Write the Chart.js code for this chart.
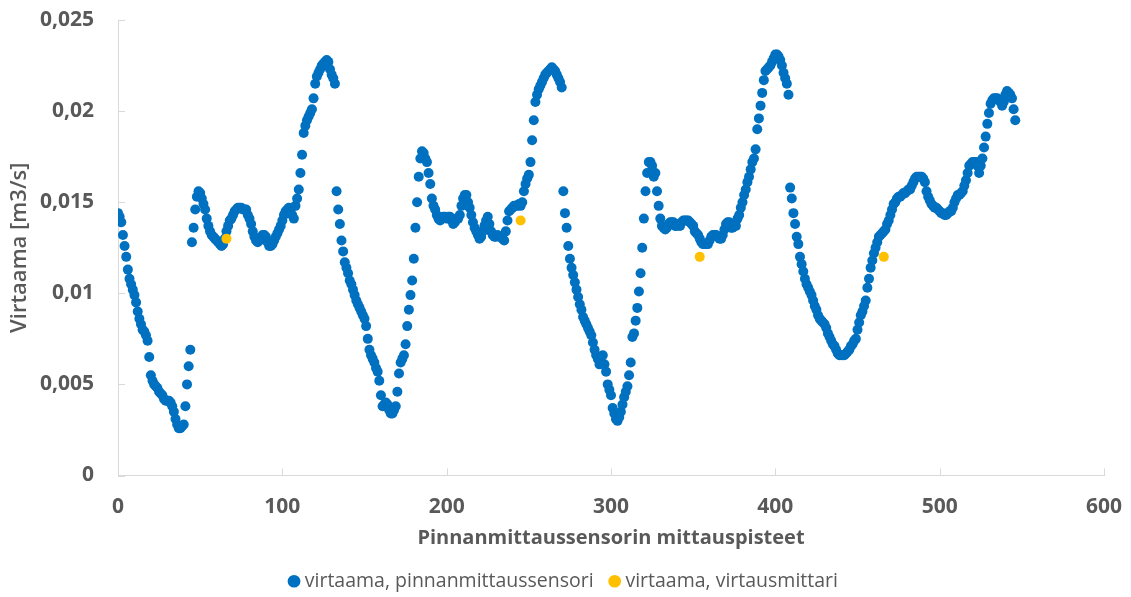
<!DOCTYPE html>
<html>
<head>
<meta charset="utf-8">
<script src="https://cdn.jsdelivr.net/npm/chart.js@4.4.1/dist/chart.umd.min.js"></script>
<style>
html,body{margin:0;padding:0;background:#fff;}
#wrap{width:1131px;height:597px;position:relative;}
</style>
</head>
<body>
<div id="wrap"><canvas id="c" width="1131" height="597"></canvas></div>
<script>
// Series 1: virtaama, pinnanmittaussensori (one value per measurement point, index 0..546)
const sensorValues = [
0.0144,0.0142,0.0139,0.0132,0.0126,0.0120,0.0113,0.0108,0.0105,0.0102,
0.0099,0.0095,0.0090,0.0086,0.0083,0.0080,0.0079,0.0077,0.0074,0.0065,
0.0055,0.0052,0.0050,0.0049,0.0048,0.0046,0.0045,0.0044,0.0042,0.0041,
0.0041,0.0041,0.0040,0.0038,0.0035,0.0031,0.0028,0.0026,0.0026,0.0027,
0.0028,0.0038,0.0050,0.0060,0.0069,0.0128,0.0136,0.0146,0.0153,0.0156,
0.0155,0.0152,0.0149,0.0146,0.0141,0.0137,0.0134,0.0132,0.0131,0.0130,
0.0129,0.0128,0.0127,0.0126,0.0127,0.0130,0.0134,0.0137,0.0140,0.0141,
0.0143,0.0145,0.0146,0.0147,0.0147,0.0147,0.0146,0.0146,0.0146,0.0143,
0.0141,0.0138,0.0134,0.0131,0.0129,0.0128,0.0129,0.0130,0.0132,0.0132,
0.0131,0.0128,0.0126,0.0126,0.0127,0.0129,0.0131,0.0133,0.0135,0.0137,
0.0140,0.0143,0.0145,0.0146,0.0147,0.0146,0.0143,0.0141,0.0148,0.0152,
0.0157,0.0166,0.0176,0.0188,0.0192,0.0195,0.0197,0.0199,0.0201,0.0207,
0.0215,0.0219,0.0221,0.0223,0.0225,0.0226,0.0227,0.0228,0.0227,0.0223,
0.0220,0.0218,0.0215,0.0156,0.0146,0.0138,0.0129,0.0123,0.0117,0.0114,
0.0111,0.0107,0.0105,0.0102,0.0099,0.0096,0.0094,0.0092,0.0090,0.0088,
0.0086,0.0082,0.0075,0.0069,0.0066,0.0064,0.0062,0.0059,0.0057,0.0052,
0.0044,0.0038,0.0039,0.0040,0.0039,0.0036,0.0034,0.0034,0.0036,0.0038,
0.0046,0.0056,0.0062,0.0064,0.0066,0.0072,0.0082,0.0091,0.0099,0.0107,
0.0119,0.0136,0.0150,0.0164,0.0174,0.0178,0.0177,0.0174,0.0172,0.0166,
0.0160,0.0152,0.0148,0.0146,0.0143,0.0141,0.0140,0.0141,0.0142,0.0142,
0.0141,0.0142,0.0142,0.0140,0.0138,0.0139,0.0141,0.0141,0.0143,0.0148,
0.0152,0.0154,0.0154,0.0150,0.0147,0.0143,0.0139,0.0136,0.0134,0.0132,
0.0130,0.0131,0.0134,0.0137,0.0140,0.0142,0.0138,0.0134,0.0132,0.0131,
0.0131,0.0132,0.0131,0.0131,0.0130,0.0129,0.0134,0.0140,0.0145,0.0146,
0.0147,0.0148,0.0148,0.0148,0.0149,0.0148,0.0150,0.0156,0.0160,0.0163,
0.0165,0.0172,0.0184,0.0195,0.0205,0.0209,0.0212,0.0214,0.0216,0.0218,
0.0220,0.0221,0.0222,0.0223,0.0224,0.0223,0.0222,0.0220,0.0218,0.0216,
0.0213,0.0156,0.0144,0.0136,0.0126,0.0119,0.0114,0.0110,0.0106,0.0102,
0.0098,0.0094,0.0091,0.0087,0.0085,0.0083,0.0081,0.0079,0.0077,0.0073,
0.0069,0.0066,0.0064,0.0061,0.0065,0.0066,0.0061,0.0057,0.0050,0.0047,
0.0044,0.0037,0.0034,0.0031,0.0030,0.0032,0.0035,0.0039,0.0043,0.0046,
0.0049,0.0055,0.0062,0.0076,0.0078,0.0085,0.0092,0.0101,0.0111,0.0125,
0.0141,0.0156,0.0166,0.0172,0.0172,0.0170,0.0164,0.0166,0.0156,0.0148,
0.0141,0.0137,0.0136,0.0135,0.0136,0.0138,0.0139,0.0139,0.0139,0.0137,
0.0137,0.0138,0.0137,0.0139,0.0140,0.0140,0.0140,0.0140,0.0139,0.0138,
0.0137,0.0134,0.0133,0.0132,0.0130,0.0128,0.0127,0.0127,0.0127,0.0127,
0.0129,0.0131,0.0132,0.0132,0.0132,0.0131,0.0130,0.0130,0.0132,0.0135,
0.0138,0.0139,0.0139,0.0136,0.0136,0.0137,0.0137,0.0141,0.0143,0.0147,
0.0150,0.0154,0.0157,0.0161,0.0164,0.0168,0.0172,0.0174,0.0179,0.0190,
0.0196,0.0203,0.0210,0.0217,0.0222,0.0223,0.0224,0.0225,0.0227,0.0229,
0.0231,0.0231,0.0230,0.0228,0.0225,0.0221,0.0218,0.0215,0.0209,0.0158,
0.0152,0.0144,0.0138,0.0131,0.0127,0.0120,0.0116,0.0112,0.0108,0.0105,
0.0103,0.0101,0.0099,0.0096,0.0093,0.0091,0.0088,0.0086,0.0085,0.0084,
0.0083,0.0081,0.0078,0.0076,0.0074,0.0072,0.0071,0.0069,0.0067,0.0066,
0.0066,0.0066,0.0066,0.0067,0.0068,0.0069,0.0071,0.0072,0.0074,0.0075,
0.0080,0.0084,0.0088,0.0090,0.0093,0.0096,0.0103,0.0108,0.0114,0.0118,
0.0122,0.0125,0.0128,0.0131,0.0132,0.0133,0.0134,0.0135,0.0138,0.0140,
0.0143,0.0146,0.0149,0.0150,0.0152,0.0153,0.0153,0.0154,0.0155,0.0155,
0.0156,0.0157,0.0157,0.0159,0.0161,0.0163,0.0164,0.0164,0.0164,0.0164,
0.0163,0.0161,0.0156,0.0153,0.0151,0.0149,0.0148,0.0147,0.0147,0.0146,
0.0145,0.0144,0.0144,0.0143,0.0143,0.0144,0.0145,0.0145,0.0147,0.0150,
0.0152,0.0154,0.0154,0.0155,0.0156,0.0159,0.0162,0.0166,0.0170,0.0171,
0.0172,0.0172,0.0172,0.0170,0.0166,0.0170,0.0174,0.0180,0.0186,0.0193,
0.0199,0.0204,0.0206,0.0207,0.0207,0.0207,0.0206,0.0205,0.0203,0.0205,
0.0209,0.0211,0.0210,0.0209,0.0207,0.0201,0.0195
];

// Series 2: virtaama, virtausmittari
const meterPoints = [66, 245, 354, 466];
const meterValues = [0.0130, 0.0140, 0.0120, 0.0120];

// Axis ticks
const xTicks = [0, 100, 200, 300, 400, 500, 600];
const yTicks = [0, 0.005, 0.01, 0.015, 0.02, 0.025];

const seriesNames = ['virtaama, pinnanmittaussensori', 'virtaama, virtausmittari'];
const axisTitles = { x: 'Pinnanmittaussensorin mittauspisteet', y: 'Virtaama [m3/s]' };

const GREY = '#595959';
const AXIS = '#d9d9d9';
const FONT = "'Open Sans', 'Liberation Sans', sans-serif";

const innerTicks = {
  id: 'innerTicks',
  afterDraw(chart) {
    const ctx = chart.ctx, xs = chart.scales.x, ys = chart.scales.y;
    ctx.save();
    ctx.strokeStyle = AXIS; ctx.lineWidth = 1;
    xs.ticks.forEach(t => {
      const px = Math.round(xs.getPixelForValue(t.value)) + 0.5;
      ctx.beginPath(); ctx.moveTo(px, ys.bottom); ctx.lineTo(px, ys.bottom - 7); ctx.stroke();
    });
    ys.ticks.forEach(t => {
      const py = Math.round(ys.getPixelForValue(t.value)) + 0.5;
      ctx.beginPath(); ctx.moveTo(xs.left, py); ctx.lineTo(xs.left + 7, py); ctx.stroke();
    });
    ctx.restore();
  }
};

const fmt = v => Number(v.toFixed(3)).toString().replace('.', ',');

new Chart(document.getElementById('c'), {
  type: 'scatter',
  data: {
    datasets: [
      {
        label: seriesNames[0],
        data: sensorValues.map((v, i) => ({ x: i, y: v })),
        backgroundColor: '#0070C0', borderColor: '#0070C0', borderWidth: 0,
        pointRadius: 5, pointHoverRadius: 5, order: 1
      },
      {
        label: seriesNames[1],
        data: meterValues.map((v, i) => ({ x: meterPoints[i], y: v })),
        backgroundColor: '#FFC000', borderColor: '#FFC000', borderWidth: 0,
        pointRadius: 5, pointHoverRadius: 5, order: 0
      }
    ]
  },
  options: {
    responsive: false,
    animation: false,
    events: [],
    layout: { autoPadding: false, padding: { left: 27, right: 27, top: 20, bottom: -4 } },
    plugins: {
      tooltip: { enabled: false },
      legend: {
        position: 'bottom',
        labels: {
          usePointStyle: true, pointStyle: 'circle', boxWidth: 2, boxHeight: 9,
          color: GREY, padding: 20,
          sort: (a, b) => a.datasetIndex - b.datasetIndex,
          font: { family: FONT, size: 19.5 }
        }
      }
    },
    scales: {
      x: {
        type: 'linear', min: 0, max: 600,
        afterBuildTicks: s => { s.ticks = xTicks.map(v => ({ value: v })); },
        grid: { display: true, drawOnChartArea: false, drawTicks: false, color: AXIS },
        border: { display: true, color: AXIS, width: 1 },
        ticks: { color: GREY, padding: 19, font: { family: FONT, size: 21, weight: 'bold' } },
        title: { display: true, text: axisTitles.x, color: GREY, padding: { top: 0, bottom: 1 },
                 font: { family: FONT, size: 20, weight: 'bold' } },
        afterFit: s => { s.height = 76; s.paddingLeft = 0; s.paddingRight = 0; }
      },
      y: {
        type: 'linear', min: 0, max: 0.025,
        afterBuildTicks: s => { s.ticks = yTicks.map(v => ({ value: v })); },
        grid: { display: true, drawOnChartArea: false, drawTicks: false, color: AXIS },
        border: { display: true, color: AXIS, width: 1 },
        ticks: { color: GREY, padding: 24, callback: v => fmt(v), font: { family: FONT, size: 21, weight: 'bold' } },
        title: { display: true, text: axisTitles.y, color: GREY, padding: { top: -20, bottom: 0 },
                 font: { family: FONT, size: 22, weight: '600' } },
        afterFit: s => { s.width = 91; s.paddingTop = 0; s.paddingBottom = 0; }
      }
    }
  },
  plugins: [innerTicks]
});
</script>
</body>
</html>
